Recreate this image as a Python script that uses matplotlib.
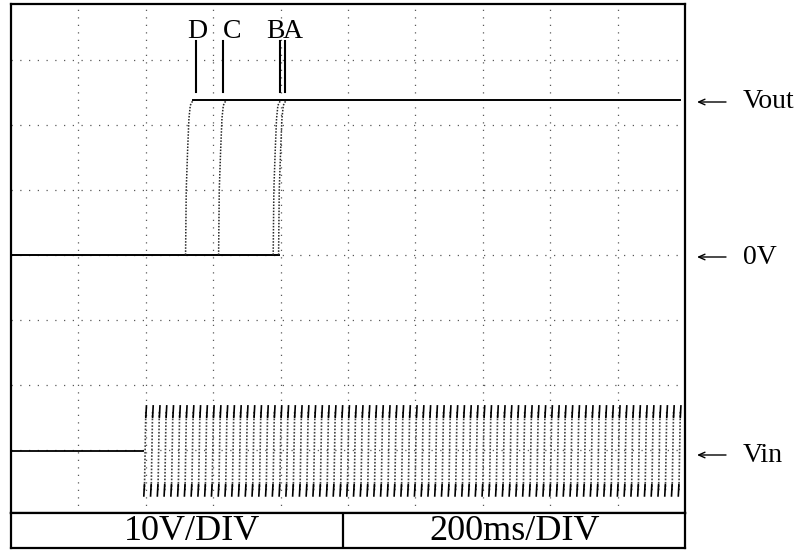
import numpy as np
import matplotlib.pyplot as plt
from matplotlib.collections import LineCollection

# scope screen in divisions: x 0..10, y with 0V at 0
W, H = 805, 553
serif = ['Liberation Serif', 'DejaVu Serif']

# Vout traces (divisions)
vout_high = 2.38
vout_low = 0.0
low_end = 3.98
high_start, high_end = 2.70, 9.93
rise_names = ['D', 'C', 'B', 'A']
rise_x0 = [2.59, 3.08, 3.89, 3.97]
rise_dx = [0.0, 0.01, 0.03, 0.05, 0.07, 0.11]
rise_y = [0.0, 1.0, 1.6, 2.1, 2.3, 2.38]
marker_x = [2.74, 3.15, 3.99, 4.06]
label_px = [197, 232, 275, 293]

# Vin trace
vin_base = -3.02
vin_on = 1.96
vin_end = 9.91
vin_top, vin_bot = -2.31, -3.72
vin_stripes = 80

fig = plt.figure(figsize=(W / 100, H / 100), dpi=100)
fig.patch.set_facecolor('white')

def fx(px):
    return px / W

def fy(py):
    return 1 - py / H

ax = fig.add_axes([fx(11), fy(513), (685 - 11) / W, (513 - 4) / H])
ax.set_xlim(0, 10)
ax.set_ylim(-3.97, 3.86)
ax.set_xticks([])
ax.set_yticks([])
for s in ax.spines.values():
    s.set_linewidth(1.6)
    s.set_color('black')

# graticule
for gx in range(1, 10):
    ax.axvline(gx, color='0.35', lw=0.9, ls=(0, (1, 5)), zorder=1)
for gy in range(-3, 4):
    ax.axhline(gy, color='0.35', lw=0.9, ls=(0, (1, 6)), zorder=1)

# Vout
ax.plot([0, low_end], [vout_low, vout_low], color='black', lw=1.4, zorder=3)
ax.plot([high_start, high_end], [vout_high, vout_high], color='black', lw=1.4, zorder=3)
for x0 in rise_x0:
    xs = [x0 + d for d in rise_dx]
    ax.plot(xs, rise_y, color='0.15', lw=1.1, ls=(0, (1, 1)), zorder=3)

for mx in marker_x:
    ax.plot([mx, mx], [2.51, 3.29], color='black', lw=1.5, zorder=3)

# Vin
ax.plot([0, vin_on], [vin_base, vin_base], color='black', lw=1.3, zorder=3)
sx = np.linspace(vin_on + 0.02, vin_end, vin_stripes)
tilt = 0.02
body = [[(x, vin_bot + 0.1), (x + tilt, vin_top - 0.1)] for x in sx]
ax.add_collection(LineCollection(body, colors='0.25', lw=1.2, linestyles=[(0, (1, 1))], zorder=3))
tops = [[(x + tilt, vin_top - 0.2), (x + tilt * 1.5, vin_top)] for x in sx]
bots = [[(x - tilt * 0.5, vin_bot), (x, vin_bot + 0.2)] for x in sx]
ax.add_collection(LineCollection(tops + bots, colors='black', lw=1.2, zorder=4))

# bottom info box
bx = fig.add_axes([fx(11), fy(548), (685 - 11) / W, (548 - 513) / H])
bx.set_xlim(11, 685)
bx.set_ylim(0, 1)
bx.set_xticks([])
bx.set_yticks([])
for s in bx.spines.values():
    s.set_linewidth(1.6)
bx.axvline(343, color='black', lw=1.6)
fig.text(fx(192), fy(532), '10V/DIV', family=serif, fontsize=26, ha='center', va='center')
fig.text(fx(515), fy(532), '200ms/DIV', family=serif, fontsize=26, ha='center', va='center')

# trace labels
for name, lx in zip(rise_names, label_px):
    fig.text(fx(lx), fy(31), name, family=serif, fontsize=20, ha='center', va='center')

for lab, py in [('Vout', 102), ('0V', 257), ('Vin', 455)]:
    fig.add_artist(plt.Annotation('', xy=(fx(697), fy(py)), xytext=(fx(726), fy(py)),
                                  xycoords='figure fraction', textcoords='figure fraction',
                                  arrowprops=dict(arrowstyle='->,head_length=0.45,head_width=0.2',
                                                  lw=1.0, color='black', shrinkA=0, shrinkB=0)))
    fig.text(fx(743), fy(py), lab, family=serif, fontsize=20, ha='left', va='center')

fig.savefig('out.png', dpi=100)
